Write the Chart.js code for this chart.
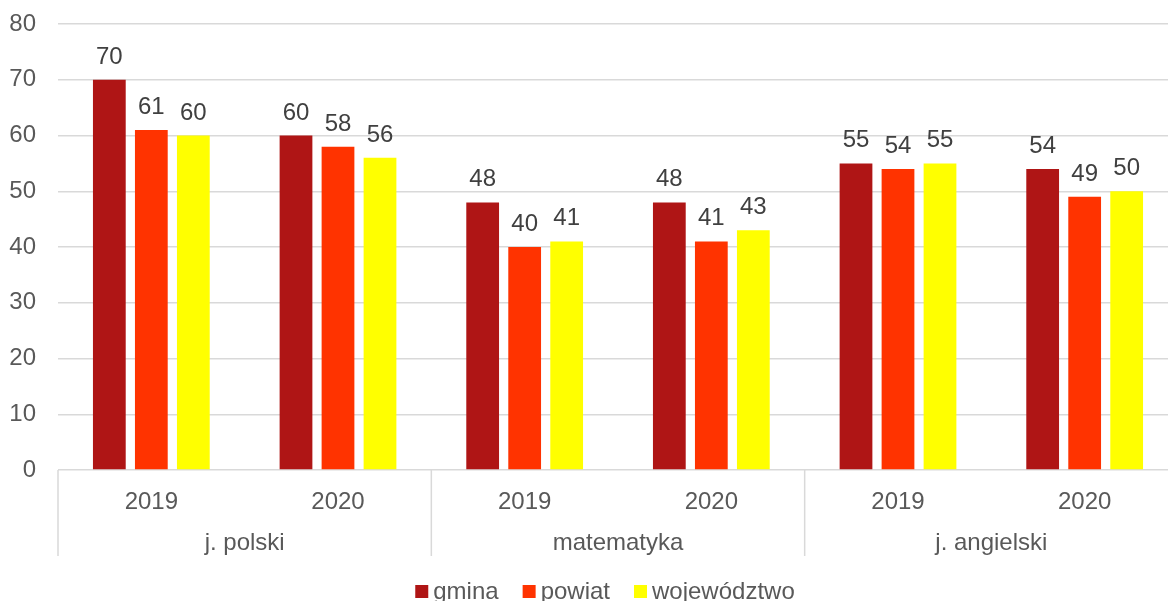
<!DOCTYPE html>
<html>
<head>
<meta charset="utf-8">
<script src="https://cdn.jsdelivr.net/npm/chart.js@4"></script>
<style>
  html, body { margin: 0; padding: 0; background: #fff; overflow: hidden; }
  #wrap { position: relative; width: 1168px; height: 601px; overflow: hidden; }
  #box { position: absolute; left: 0; top: 0; width: 1210px; height: 601px; }
</style>
</head>
<body>
<div id="wrap"><div id="box"><canvas id="wykres"></canvas></div></div>
<script>
const lata = ['2019', '2020', '2019', '2020', '2019', '2020'];
const przedmioty = ['j. polski', 'matematyka', 'j. angielski'];
const gmina = [70, 60, 48, 48, 55, 54];
const powiat = [61, 58, 40, 41, 54, 49];
const wojewodztwo = [60, 56, 41, 43, 55, 50];
const yTicks = [0, 10, 20, 30, 40, 50, 60, 70, 80];

const FONT = 'Liberation Sans, Arial, sans-serif';

// etykiety wartości, podział na przedmioty i legenda
const dodatki = {
  id: 'dodatki',
  afterDraw(chart) {
    const ctx = chart.ctx;
    const x = chart.scales.x;
    const area = chart.chartArea;
    ctx.save();
    ctx.font = '24px ' + FONT;
    ctx.fillStyle = '#404040';
    ctx.textAlign = 'center';
    ctx.textBaseline = 'alphabetic';
    chart.data.datasets.forEach((ds, i) => {
      chart.getDatasetMeta(i).data.forEach((bar, j) => {
        ctx.fillText(String(ds.data[j]), bar.x, bar.y - 16);
      });
    });

    // linie oddzielające grupy
    ctx.strokeStyle = '#d9d9d9';
    ctx.lineWidth = 1.5;
    const step = (x.getPixelForValue(1) - x.getPixelForValue(0));
    for (let g = 0; g <= przedmioty.length; g++) {
      const px = x.getPixelForValue(g * 2) - step / 2;
      ctx.beginPath();
      ctx.moveTo(px, area.bottom);
      ctx.lineTo(px, 556);
      ctx.stroke();
    }
    ctx.fillStyle = '#595959';
    przedmioty.forEach((p, g) => {
      const cx = (x.getPixelForValue(g * 2) + x.getPixelForValue(g * 2 + 1)) / 2;
      ctx.fillText(p, cx, 550);
    });

    // legenda
    const items = chart.data.datasets.map(ds => ({ t: ds.label, c: ds.backgroundColor }));
    const box = 13, gap = 5, sep = 24;
    let total = 0;
    items.forEach((it, k) => {
      it.w = ctx.measureText(it.t).width;
      total += box + gap + it.w + (k ? sep : 0);
    });
    let lx = 605 - total / 2;
    ctx.textAlign = 'left';
    items.forEach(it => {
      ctx.fillStyle = it.c;
      ctx.fillRect(lx, 585, box, box);
      ctx.fillStyle = '#595959';
      ctx.fillText(it.t, lx + box + gap, 599);
      lx += box + gap + it.w + sep;
    });
    ctx.restore();
  }
};

new Chart(document.getElementById('wykres').getContext('2d'), {
  type: 'bar',
  data: {
    labels: lata,
    datasets: [
      { label: 'gmina', data: gmina, backgroundColor: '#AF1515' },
      { label: 'powiat', data: powiat, backgroundColor: '#FF3300' },
      { label: 'województwo', data: wojewodztwo, backgroundColor: '#FFFF00' }
    ]
  },
  options: {
    responsive: true,
    maintainAspectRatio: false,
    animation: false,
    categoryPercentage: 0.675,
    barPercentage: 0.78,
    layout: { padding: { top: 24, right: 32, left: 0, bottom: 0 } },
    plugins: {
      legend: { display: false },
      tooltip: { enabled: false }
    },
    scales: {
      y: {
        min: 0,
        max: 80,
        afterFit(s) { s.width = 58; s.paddingTop = 12; },
        afterBuildTicks(s) { s.ticks = yTicks.map(v => ({ value: v })); },
        border: { display: false },
        grid: { color: '#d9d9d9', lineWidth: 1.5, drawTicks: false },
        ticks: { padding: 22, color: '#595959', font: { size: 24, family: FONT } }
      },
      x: {
        afterFit(s) { s.height = 131; },
        border: { display: false },
        grid: { display: false },
        ticks: { padding: 10, color: '#595959', font: { size: 24, family: FONT }, maxRotation: 0, autoSkip: false }
      }
    }
  },
  plugins: [dodatki]
});
</script>
</body>
</html>
